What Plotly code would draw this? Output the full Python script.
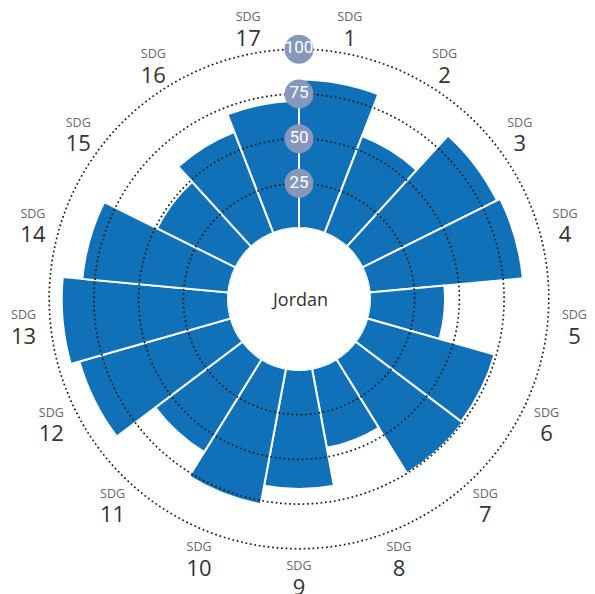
import numpy as np
import plotly.graph_objects as go

# ---- data ----
sdg_numbers = list(range(1, 18))
sdg_scores = [83, 58, 84, 86, 42, 74, 75, 45, 66.5, 77, 61, 88, 93, 82, 49, 60.5, 71]
grid_levels = [25, 50, 75, 100]
country = "Jordan"

n = len(sdg_numbers)
step = 360.0 / n
theta_centers = [(i + 0.5) * step for i in range(n)]

BAR_BLUE = "#1071b9"
BADGE = "#8598bc"
FONT = "Open Sans"

# geometry: 0 -> 71 px from centre, 100 -> 250 px
R_MAX = 118          # radial axis max so labels fit inside the range
PX_PER_UNIT = (250 - 71) / 100.0
R_PX = 71 + R_MAX * PX_PER_UNIT
CX, CY = 299, 299
LABEL_R = 115

fig = go.Figure()

# bars
fig.add_trace(go.Barpolar(
    r=sdg_scores,
    theta=theta_centers,
    width=[step] * n,
    marker=dict(color=BAR_BLUE, line=dict(color="white", width=2)),
    hoverinfo="skip",
))

# dotted grid circles drawn above the bars
circle_theta = np.linspace(0, 360, 361)
for lvl in grid_levels:
    fig.add_trace(go.Scatterpolar(
        r=[lvl] * len(circle_theta),
        theta=circle_theta,
        mode="lines",
        line=dict(color="#1a1a1a", width=1.7, dash="1.7px,2.8px"),
        hoverinfo="skip",
        showlegend=False,
    ))

# radial value badges
fig.add_trace(go.Scatterpolar(
    r=grid_levels,
    theta=[0] * len(grid_levels),
    mode="markers+text",
    marker=dict(size=29, color=BADGE, line=dict(width=0)),
    text=[str(v) for v in grid_levels],
    textposition="middle center",
    textfont=dict(color="white", size=17, family="Liberation Sans Narrow, Roboto"),
    hoverinfo="skip",
    showlegend=False,
    cliponaxis=False,
))

# SDG labels outside the ring: small "SDG" above, large number below
fig.add_trace(go.Scatterpolar(
    r=[LABEL_R] * n,
    theta=theta_centers,
    mode="markers+text",
    marker=dict(size=2.4, opacity=0),
    text=["SDG"] * n,
    textposition="top center",
    textfont=dict(size=12.5, family=FONT, color="#666666"),
    hoverinfo="skip",
    showlegend=False,
    cliponaxis=False,
))
fig.add_trace(go.Scatterpolar(
    r=[LABEL_R] * n,
    theta=theta_centers,
    mode="markers+text",
    marker=dict(size=2.4, opacity=0),
    text=[str(k) for k in sdg_numbers],
    textposition="bottom center",
    textfont=dict(size=22, family=FONT, color="#333333"),
    hoverinfo="skip",
    showlegend=False,
    cliponaxis=False,
))

fig.update_layout(
    width=595,
    height=594,
    margin=dict(l=CX - R_PX, r=595 - CX - R_PX, t=CY - R_PX, b=594 - CY - R_PX, pad=0),
    paper_bgcolor="white",
    plot_bgcolor="white",
    showlegend=False,
    polar=dict(
        bgcolor="rgba(0,0,0,0)",
        hole=71 / R_PX,
        domain=dict(x=[0, 1], y=[0, 1]),
        radialaxis=dict(range=[0, R_MAX], showgrid=False, showline=False,
                        showticklabels=False, ticks=""),
        angularaxis=dict(direction="clockwise", rotation=90, showgrid=False,
                         showline=False, showticklabels=False, ticks=""),
    ),
    annotations=[dict(
        text=country, x=0.5, y=0.5, xref="paper", yref="paper",
        showarrow=False, font=dict(size=18, family=FONT, color="#333333"),
        xanchor="center", yanchor="middle",
    )],
)

fig.write_html("out.html", config={"displayModeBar": False},
               post_script="document.body.style.margin='0';")
